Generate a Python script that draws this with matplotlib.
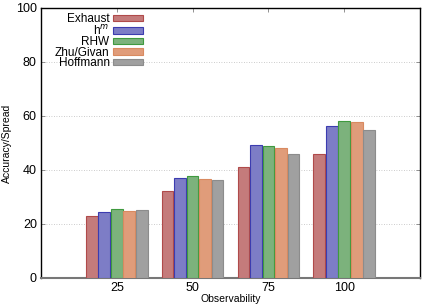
import matplotlib
matplotlib.use("Agg")
import matplotlib.pyplot as plt
import numpy as np

categories = ["25", "50", "75", "100"]
series_names = ["Exhaust", "h$^{m}$", "RHW", "Zhu/Givan", "Hoffmann"]
exhaust = [23.0, 32.2, 41.0, 45.8]
hm = [24.4, 36.9, 49.1, 56.3]
rhw = [25.4, 37.8, 49.0, 58.0]
zhu = [24.8, 36.5, 48.0, 57.6]
hoffmann = [25.1, 36.2, 45.8, 54.8]
series = [exhaust, hm, rhw, zhu, hoffmann]

fills = ["#c47b7b", "#7d7dc6", "#7cb27c", "#e09c7a", "#a0a0a0"]
edges = ["#b04a4a", "#3c3cb0", "#3f9a3f", "#d98a60", "#8c8c8c"]

plt.rcParams['font.family'] = ['Liberation Sans', 'DejaVu Sans']
fig = plt.figure(figsize=(4.36, 3.05), dpi=100)
ax = fig.add_axes([41/436, 27/305, 379/436, 270/305])

x = np.arange(1, len(categories) + 1)
w = 0.165
for i, (vals, name) in enumerate(zip(series, series_names)):
    off = (i - 2) * w
    ax.bar(x + off, vals, width=w * 0.93, color=fills[i], edgecolor=edges[i],
           linewidth=0.8, label=name, zorder=3)

ax.set_xlim(0, 5)
ax.set_ylim(0, 100)
ax.set_xticks(x)
ax.set_xticklabels(categories)
ax.set_yticks([0, 20, 40, 60, 80, 100])
ax.yaxis.grid(True, color="#bbbbbb", linestyle=(0, (1, 2)), linewidth=0.6, zorder=0)
ax.tick_params(direction="in", length=3, width=0.6, color="#808080",
               labelsize=9, top=True, right=True, pad=3)
for s in ax.spines.values():
    s.set_color("black")
    s.set_linewidth(1.0)
ax.spines["bottom"].set_color("#777777")
ax.spines["bottom"].set_linewidth(1.5)
ax.set_xlabel("Observability", fontsize=7.5, labelpad=0)
ax.set_ylabel("Accuracy/Spread", fontsize=7.5, labelpad=3)

leg = ax.legend(loc="upper left", bbox_to_anchor=(14/379, 1 - 5/270), frameon=False,
                fontsize=8.5, markerfirst=False, handlelength=2.6, handleheight=0.45,
                labelspacing=-0.12, borderaxespad=0.0, borderpad=0.0, handletextpad=0.25)
for t in leg.get_texts():
    t.set_ha("right")
leg._legend_box.align = "right"

fig.savefig("out.png", dpi=100)
